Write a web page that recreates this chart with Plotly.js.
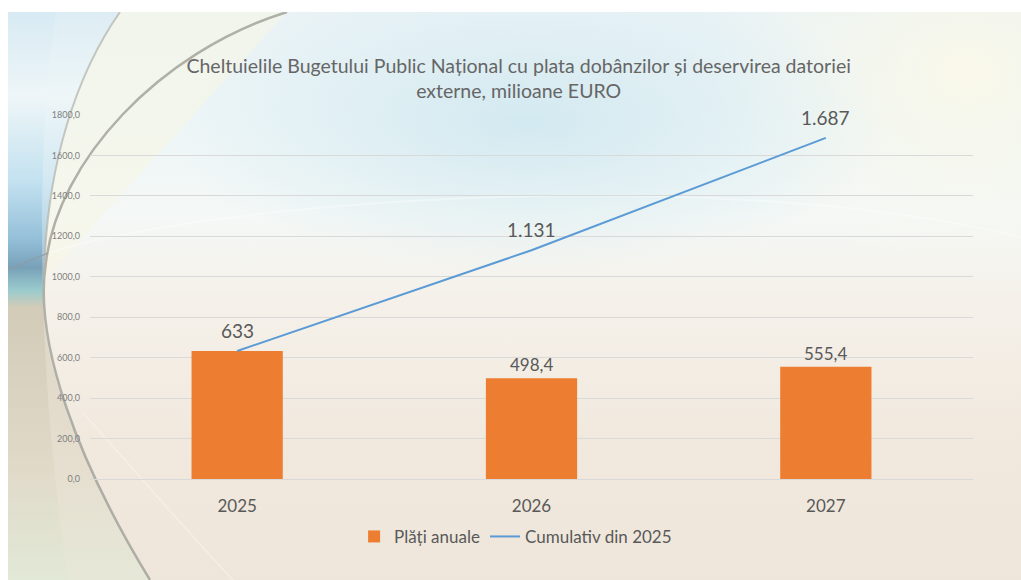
<!DOCTYPE html>
<html>
<head>
<meta charset="utf-8">
<script src="https://cdn.plot.ly/plotly-3.0.1.min.js"></script>
<style>
  html, body { margin: 0; padding: 0; background: #ffffff; }
  #wrap { position: absolute; left: 8px; top: 12px; width: 1013px; height: 568px; overflow: hidden;
    background:
      radial-gradient(ellipse 360px 150px at 520px 110px, rgba(208,232,240,0.9), rgba(208,232,240,0) 100%),
      radial-gradient(ellipse 260px 200px at 960px 60px, rgba(250,248,232,0.9), rgba(250,248,232,0) 100%),
      linear-gradient(180deg, #eaf3f6 0%, #eef6f7 20%, #f4f8f6 36%, #f5f1ea 50%, #f1e9de 75%, #eee6da 100%);
  }
  #bg { position: absolute; left: 0; top: 0; }
  #chart { position: absolute; left: -8px; top: -12px; width: 1021px; height: 580px; }
</style>
</head>
<body>
<div id="wrap">
  <svg id="bg" width="1013" height="568" xmlns="http://www.w3.org/2000/svg">
    <defs>
      <linearGradient id="lb" x1="0" y1="0" x2="0" y2="1">
        <stop offset="0" stop-color="#d3e8f2"/>
        <stop offset="0.15" stop-color="#eef6f8"/>
        <stop offset="0.3" stop-color="#b8dcee"/>
        <stop offset="0.4" stop-color="#7fb3d3"/>
        <stop offset="0.45" stop-color="#5d8fad"/>
        <stop offset="0.49" stop-color="#86c3c6"/>
        <stop offset="0.52" stop-color="#cbc3ad"/>
        <stop offset="0.8" stop-color="#ddd6c4"/>
        <stop offset="1" stop-color="#dfe9d5"/>
      </linearGradient>
    </defs>
    <path d="M0 0 L112 0 C70 60 38 150 36 268 C28 340 70 450 142 568 L0 568 Z" fill="url(#lb)" opacity="0.55"/>
    <path d="M0 0 L48 0 C30 120 25 330 60 568 L0 568 Z" fill="url(#lb)" opacity="0.6"/>
    <path d="M112 0 C70 60 38 150 36 268 L279 0 Z" fill="#f8f5e4" opacity="0.55"/>
    <path d="M40 241 C200 190 700 150 1013 225" fill="none" stroke="#ffffff" stroke-width="2" opacity="0.35"/>
    <path d="M75 401 C120 450 170 510 225 568" fill="none" stroke="#ffffff" stroke-width="1.5" opacity="0.3"/>
    <path d="M279 0 C150 40 50 150 38 250 C25 330 70 450 142 568" fill="none" stroke="#a3a39c" stroke-width="2.5" opacity="0.85"/>
    <path d="M112 0 C70 60 38 150 36 268" fill="none" stroke="#b0b2ac" stroke-width="2" opacity="0.7"/>
    <path d="M0 258 L40 241" fill="none" stroke="#8e9aa2" stroke-width="1.5" opacity="0.7"/>
  </svg>
  <div id="chart"></div>
</div>
<script>
var categories = ['2025', '2026', '2027'];
var annualPayments = [633, 498.4, 555.4];
var annualLabels = ['', '498,4', '555,4'];
var cumulative = [633, 1131.4, 1686.8];
var cumulativeLabels = ['633', '1.131', '1.687'];
var yTickVals = [0, 200, 400, 600, 800, 1000, 1200, 1400, 1600, 1800];
var yTickText = ['0,0', '200,0', '400,0', '600,0', '800,0', '1000,0', '1200,0', '1400,0', '1600,0', '1800,0'];

var FONT = 'Lato, "Open Sans", sans-serif';

var traces = [
  {
    type: 'bar',
    name: 'Plăți anuale',
    x: categories,
    y: annualPayments,
    marker: { color: '#ED7D31' },
    hoverinfo: 'x+y'
  },
  {
    type: 'scatter',
    mode: 'lines',
    name: 'Cumulativ din 2025',
    x: categories,
    y: cumulative,
    line: { color: '#5B9BD5', width: 2 }
  }
];

// annotations on a category axis are placed by category index
var annotations = [];
categories.forEach(function (c, i) {
  if (annualLabels[i]) {
    annotations.push({
      x: i, y: annualPayments[i], xref: 'x', yref: 'y',
      text: annualLabels[i], showarrow: false,
      yanchor: 'bottom', yshift: 1,
      font: { family: FONT, size: 17, color: '#595959' }
    });
  }
  annotations.push({
    x: i, y: cumulative[i], xref: 'x', yref: 'y',
    text: cumulativeLabels[i], showarrow: false,
    yanchor: 'bottom', yshift: 7,
    font: { family: FONT, size: 19, color: '#595959' }
  });
});

var layout = {
  width: 1021,
  height: 580,
  paper_bgcolor: 'rgba(0,0,0,0)',
  plot_bgcolor: 'rgba(0,0,0,0)',
  margin: { l: 90, r: 48, t: 115, b: 101 },
  font: { family: FONT, color: '#595959' },
  title: {
    text: 'Cheltuielile Bugetului Public Național cu plata dobânzilor și deservirea datoriei<br>externe, milioane EURO',
    font: { family: FONT, size: 19.5, color: '#666666' },
    x: 0.508,
    xanchor: 'center',
    y: 0.874,
    yanchor: 'middle'
  },
  bargap: 0.69,
  showlegend: true,
  legend: {
    orientation: 'h',
    x: 0.482,
    xanchor: 'center',
    y: -0.159,
    yanchor: 'middle',
    font: { family: FONT, size: 17, color: '#595959' },
    bgcolor: 'rgba(0,0,0,0)',
    tracegroupgap: 0
  },
  annotations: annotations,
  xaxis: {
    type: 'category',
    categoryorder: 'array',
    categoryarray: categories,
    range: [-0.5, categories.length - 0.5],
    tickfont: { family: FONT, size: 17, color: '#595959' },
    showgrid: false,
    showline: true,
    linecolor: '#d9d9d9',
    linewidth: 1,
    ticks: '',
    ticklabelstandoff: 12
  },
  yaxis: {
    range: [0, 1800],
    tickvals: yTickVals,
    ticktext: yTickText,
    tickfont: { family: FONT, size: 9, color: '#7f7f7f' },
    showgrid: true,
    gridcolor: '#d9d9d9',
    gridwidth: 1,
    zeroline: false,
    showline: false,
    ticks: '',
    ticklabelstandoff: 9
  }
};

Plotly.newPlot('chart', traces, layout, { displayModeBar: false, responsive: false });
</script>
</body>
</html>
